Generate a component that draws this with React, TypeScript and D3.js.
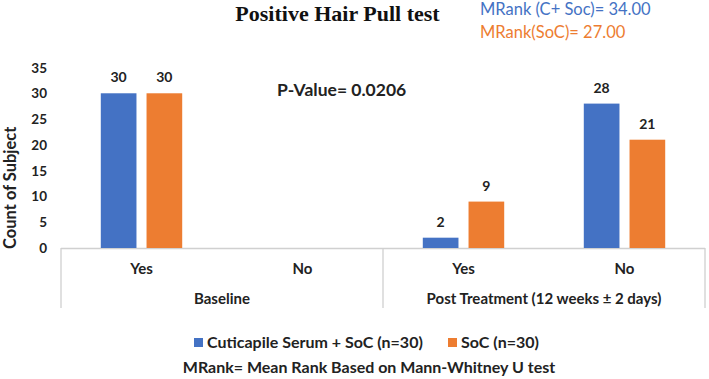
// @ts-nocheck
import { useEffect, useRef } from 'react';
import * as d3 from 'd3';

const groups = ['Baseline', 'Post Treatment (12 weeks ± 2 days)'];
const answers = ['Yes', 'No'];
const seriesNames = ['Cuticapile Serum + SoC (n=30)', 'SoC (n=30)'];
const serumValues = [30, null, 2, 28];
const socValues = [30, null, 9, 21];
const yTicks = [0, 5, 10, 15, 20, 25, 30, 35];
const colors = ['#4472C4', '#ED7D31'];

const FONT = 'Lato, "Open Sans", sans-serif';

const App = () => {
  const svgRef = useRef();

  useEffect(() => {
    const svg = d3.select(svgRef.current);
    svg.selectAll('*').remove();

    const W = 709, H = 379;
    const left = 61, right = 705, top = 67.5, bottom = 248;

    const cats = [];
    groups.forEach(g => answers.forEach(a => cats.push(g + '|' + a)));

    const x = d3.scaleBand().domain(cats).range([left, right]);
    const xs = d3.scaleBand().domain(['s0', 's1']).range([0, x.bandwidth()]).paddingInner(0.22).paddingOuter(0.87);
    const y = d3.scaleLinear().domain([0, 35]).range([bottom, top]);

    svg.attr('width', W).attr('height', H);
    svg.append('rect').attr('width', W).attr('height', H).attr('fill', '#fff');

    // title
    svg.append('text')
      .attr('x', 337.5).attr('y', 21)
      .attr('text-anchor', 'middle')
      .style('font-family', '"Liberation Serif", serif')
      .style('font-weight', 'bold')
      .style('font-size', '22px')
      .attr('fill', '#111')
      .text('Positive Hair Pull test');

    svg.append('text').attr('x', 480).attr('y', 15)
      .style('font-family', FONT).style('font-size', '16.5px').attr('fill', colors[0])
      .text('MRank (C+ Soc)= 34.00');
    svg.append('text').attr('x', 480).attr('y', 37.5)
      .style('font-family', FONT).style('font-size', '16.5px').attr('fill', colors[1])
      .text('MRank(SoC)= 27.00');

    // y axis labels
    svg.append('g').selectAll('text').data(yTicks).enter().append('text')
      .attr('x', 47).attr('y', d => y(d) + 5)
      .attr('text-anchor', 'end')
      .style('font-family', FONT).style('font-weight', 'bold').style('font-size', '13.5px')
      .attr('fill', '#222')
      .text(d => d);

    svg.append('text')
      .attr('transform', `translate(16,${(top + bottom) / 2 + 30}) rotate(-90)`)
      .attr('text-anchor', 'middle')
      .style('font-family', FONT).style('font-weight', 'bold').style('font-size', '16.5px')
      .attr('fill', '#222')
      .text('Count of Subject');

    // x axis lines
    const axisColor = '#d0d0d0';
    svg.append('line').attr('x1', left).attr('x2', right).attr('y1', bottom + 0.5).attr('y2', bottom + 0.5)
      .attr('stroke', axisColor).attr('stroke-width', 1.3);
    const sepX = [left, x(cats[2]), right];
    svg.append('g').selectAll('line').data(sepX).enter().append('line')
      .attr('x1', d => d).attr('x2', d => d)
      .attr('y1', bottom).attr('y2', 308)
      .attr('stroke', axisColor).attr('stroke-width', 1.3);

    svg.append('g').selectAll('text').data(cats).enter().append('text')
      .attr('x', d => x(d) + x.bandwidth() / 2).attr('y', 274)
      .attr('text-anchor', 'middle')
      .style('font-family', FONT).style('font-weight', 'bold').style('font-size', '15px')
      .attr('fill', '#222')
      .text(d => d.split('|')[1]);

    svg.append('g').selectAll('text').data(groups).enter().append('text')
      .attr('x', g => (x(g + '|Yes') + x(g + '|No') + x.bandwidth()) / 2).attr('y', 304)
      .attr('text-anchor', 'middle')
      .style('font-family', FONT).style('font-weight', 'bold').style('font-size', '15px')
      .attr('fill', '#222')
      .text(g => g);

    // bars
    const barData = [];
    cats.forEach((c, i) => {
      [serumValues[i], socValues[i]].forEach((v, s) => {
        if (v !== null) barData.push({ c, s, v });
      });
    });

    svg.append('g').selectAll('rect').data(barData).enter().append('rect')
      .attr('x', d => x(d.c) + xs('s' + d.s))
      .attr('y', d => y(d.v))
      .attr('width', xs.bandwidth())
      .attr('height', d => y(0) - y(d.v))
      .attr('fill', d => colors[d.s]);

    svg.append('g').selectAll('text').data(barData).enter().append('text')
      .attr('x', d => x(d.c) + xs('s' + d.s) + xs.bandwidth() / 2)
      .attr('y', d => y(d.v) - 11)
      .attr('text-anchor', 'middle')
      .style('font-family', FONT).style('font-weight', 'bold').style('font-size', '14px')
      .attr('fill', '#222')
      .text(d => d.v);

    svg.append('text').attr('x', 277).attr('y', 96)
      .style('font-family', FONT).style('font-weight', 'bold').style('font-size', '17.5px')
      .attr('fill', '#222')
      .text('P-Value= 0.0206');

    // legend
    const lg = svg.append('g');
    const items = [{ x: 194, name: seriesNames[0] }, { x: 448, name: seriesNames[1] }];
    items.forEach((it, i) => {
      lg.append('rect').attr('x', it.x).attr('y', 338).attr('width', 9).attr('height', 9).attr('fill', colors[i]);
      lg.append('text').attr('x', it.x + 13).attr('y', 348)
        .style('font-family', FONT).style('font-weight', 'bold').style('font-size', '16px')
        .attr('fill', '#222')
        .text(it.name);
    });

    svg.append('text').attr('x', 369).attr('y', 373)
      .attr('text-anchor', 'middle')
      .style('font-family', FONT).style('font-weight', 'bold').style('font-size', '16px')
      .attr('fill', '#222')
      .text('MRank= Mean Rank Based on Mann-Whitney U test');
  }, []);

  return <svg ref={svgRef} style={{ position: 'absolute', left: 0, top: 0 }}></svg>;
};

export default App;
